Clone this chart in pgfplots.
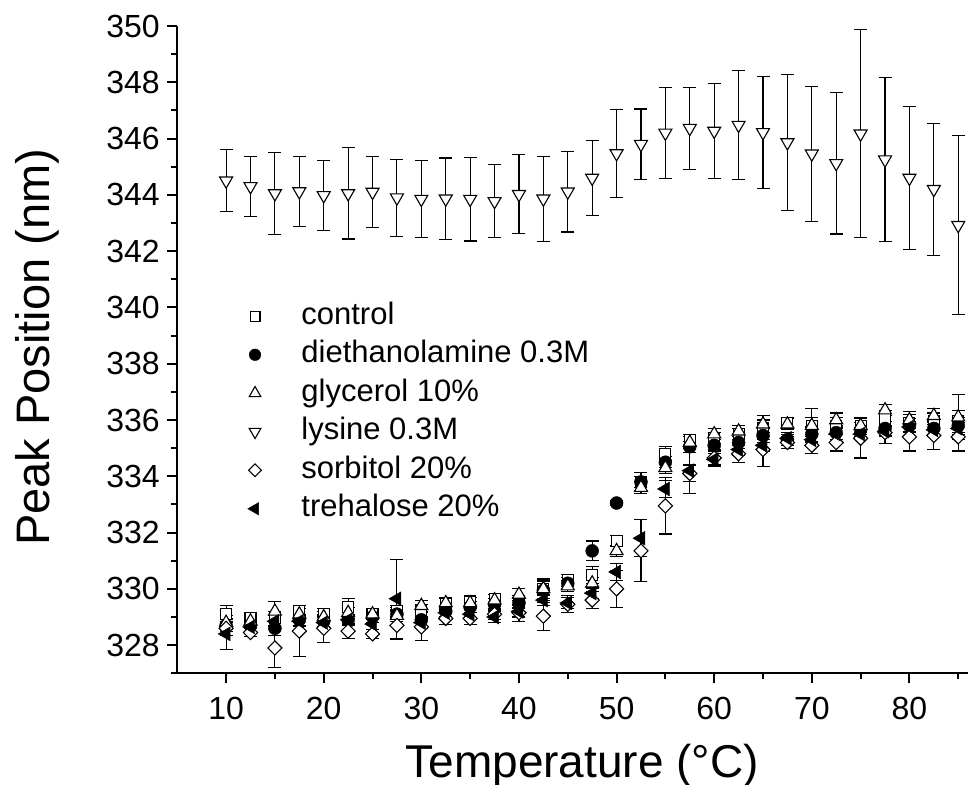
\documentclass[border=0pt]{standalone}
\usepackage{pgfplots}
\pgfplotsset{compat=1.18}
\usepackage{pgfplotstable}
\usepackage{fontspec}
\setmainfont{Liberation Sans}

\pgfplotstableread{
x y e
10 329.1 0.3
12.5 328.95 0.15
15 328.95 0.25
17.5 329.2 0.2
20 329.1 0.2
22.5 329.35 0.3
25 329.1 0.2
27.5 329.2 0.2
30 329.2 0.25
32.5 329.45 0.2
35 329.55 0.15
37.5 329.65 0.15
40 329.55 0.2
42.5 330.0 0.35
45 330.3 0.2
47.5 330.5 0.3
50 331.7 0.2
52.5 333.8 0.35
55 334.8 0.25
57.5 335.3 0.2
60 335.35 0.2
62.5 335.5 0.2
65 335.7 0.3
67.5 335.9 0.2
70 335.8 0.3
72.5 335.8 0.3
75 335.8 0.25
77.5 336.05 0.3
80 335.9 0.3
82.5 335.95 0.3
85 335.95 0.4
}\control

\pgfplotstableread{
x y e
10 328.7 0.2
12.5 328.7 0.2
15 328.6 0.25
17.5 328.9 0.2
20 328.85 0.2
22.5 328.9 0.2
25 329.0 0.2
27.5 329.1 0.25
30 328.9 0.25
32.5 329.2 0.2
35 329.35 0.2
37.5 329.45 0.2
40 329.5 0.2
42.5 329.95 0.35
45 330.2 0.2
47.5 331.35 0.35
50 333.05 0.1
52.5 333.8 0.2
55 334.5 0.2
57.5 335.05 0.2
60 335.1 0.2
62.5 335.2 0.2
65 335.45 0.25
67.5 335.3 0.2
70 335.5 0.25
72.5 335.55 0.25
75 335.65 0.25
77.5 335.7 0.25
80 335.8 0.25
82.5 335.7 0.3
85 335.8 0.3
}\dieth

\pgfplotstableread{
x y e
10 328.8 0.25
12.5 328.85 0.2
15 329.2 0.35
17.5 329.1 0.2
20 329.0 0.2
22.5 329.15 0.2
25 329.1 0.2
27.5 329.05 0.2
30 329.4 0.2
32.5 329.5 0.2
35 329.5 0.2
37.5 329.6 0.2
40 329.8 0.2
42.5 330.0 0.25
45 330.1 0.2
47.5 330.2 0.2
50 331.35 0.2
52.5 333.6 0.2
55 334.3 0.2
57.5 335.2 0.2
60 335.5 0.2
62.5 335.6 0.2
65 335.85 0.3
67.5 335.85 0.2
70 335.8 0.6
72.5 336.0 0.25
75 335.8 0.3
77.5 336.35 0.2
80 336.0 0.3
82.5 336.15 0.25
85 336.1 0.8
}\glycerol

\pgfplotstableread{
x y e
10 344.5 1.1
12.5 344.3 1.06
15 344.05 1.45
17.5 344.12 1.25
20 343.98 1.25
22.5 344.05 1.62
25 344.1 1.27
27.5 343.9 1.37
30 343.85 1.36
32.5 343.86 1.45
35 343.85 1.49
37.5 343.77 1.3
40 344.02 1.4
42.5 343.86 1.51
45 344.11 1.43
47.5 344.6 1.33
50 345.47 1.55
52.5 345.8 1.25
55 346.2 1.63
57.5 346.37 1.46
60 346.27 1.7
62.5 346.48 1.93
65 346.22 1.98
67.5 345.86 2.43
70 345.46 2.4
72.5 345.12 2.51
75 346.17 3.69
77.5 345.25 2.91
80 344.6 2.54
82.5 344.2 2.34
85 342.92 3.18
}\lysine

\pgfplotstableread{
x y e
10 328.6 0.25
12.5 328.45 0.15
15 327.9 0.7
17.5 328.5 0.9
20 328.6 0.5
22.5 328.5 0.25
25 328.4 0.15
27.5 328.7 0.5
30 328.65 0.5
32.5 328.95 0.2
35 328.95 0.2
37.5 329.1 0.2
40 329.15 0.3
42.5 329.03 0.5
45 329.45 0.3
47.5 329.6 0.3
50 330.0 0.65
52.5 331.35 1.1
55 332.95 1.0
57.5 334.1 0.3
60 334.65 0.3
62.5 334.8 0.3
65 334.95 0.6
67.5 335.2 0.2
70 335.1 0.3
72.5 335.2 0.3
75 335.35 0.7
77.5 335.55 0.4
80 335.4 0.5
82.5 335.45 0.5
85 335.4 0.5
}\sorbitol

\pgfplotstableread{
x y e
10 328.4 0.55
12.5 328.65 0.2
15 328.85 0.2
17.5 328.85 0.2
20 328.8 0.2
22.5 328.9 0.2
25 328.75 0.2
27.5 329.65 1.4
30 328.8 0.2
32.5 329.15 0.2
35 329.1 0.2
37.5 329.0 0.2
40 329.2 0.2
42.5 329.6 0.2
45 329.5 0.2
47.5 329.85 0.2
50 330.6 0.3
52.5 331.8 0.65
55 333.55 0.3
57.5 334.2 0.8
60 334.6 0.2
62.5 334.95 0.2
65 335.1 0.2
67.5 335.35 0.2
70 335.3 0.2
72.5 335.5 0.2
75 335.5 0.2
77.5 335.6 0.2
80 335.75 0.2
82.5 335.65 0.2
85 335.7 0.2
}\trehalose

\begin{document}
\begin{tikzpicture}
\useasboundingbox (-177.3bp,-111.7bp) rectangle (790.7bp,673.3bp);
\begin{axis}[
  scale only axis,
  width=790.7bp, height=647.3bp,
  xmin=5, xmax=86, ymin=327, ymax=350,
  axis x line*=bottom, axis y line*=left,
  axis line style={line width=2.2bp},
  xtick={10,20,...,80}, minor xtick={15,25,...,85},
  ytick={328,330,...,350}, minor ytick={327,329,...,349},
  tick align=outside,
  major tick length=10bp, minor tick length=6bp,
  every tick/.style={line width=2bp, black},
  tick label style={font=\fontsize{32bp}{38bp}\selectfont},
  xticklabel style={yshift=-10bp},
  yticklabel style={xshift=-4bp},
  /pgf/number format/assume math mode=true,
  /pgf/number format/1000 sep={},
  clip=false,
  xlabel={Temperature (°C)},
  ylabel={Peak Position (nm)},
  xlabel style={font=\fontsize{46bp}{55bp}\selectfont, at={(rel axis cs:0.512,0)}, anchor=base, yshift=-103.7bp},
  ylabel style={font=\fontsize{47bp}{56bp}\selectfont, at={(axis cs:-8.1,338.59)}, anchor=base},
  legend style={draw=none, fill=none, font=\fontsize{31bp}{37bp}\selectfont,
    at={(axis cs:11.9,340.27)}, anchor=north west, row sep=10bp, column sep=40bp,
    nodes={inner sep=0pt, text height=22bp, text depth=6.5bp}},
  legend cell align=left,
  legend image post style={scale=0.9},
  error bars/y dir=both, error bars/y explicit,
  error bars/error mark options={black, line width=1.1bp, mark size=6.5bp, rotate=90},
  error bars/error bar style={black, line width=1.1bp},
]
\addplot[only marks, mark=square*, mark size=5.5bp, mark options={fill=white, draw=black, line width=1.1bp}] table[x=x, y=y, y error=e] {\control};
\addlegendentry{control}
\addplot[only marks, mark=*, mark size=6.5bp, mark options={fill=black, draw=black}] table[x=x, y=y, y error=e] {\dieth};
\addlegendentry{diethanolamine 0.3M}
\addplot[only marks, mark=triangle*, mark size=7.5bp, mark options={fill=white, draw=black, line width=1.1bp}] table[x=x, y=y, y error=e] {\glycerol};
\addlegendentry{glycerol 10\%}
\addplot[only marks, mark=triangle*, mark size=7.5bp, mark options={fill=white, draw=black, line width=1.1bp, rotate=180}] table[x=x, y=y, y error=e] {\lysine};
\addlegendentry{lysine 0.3M}
\addplot[only marks, mark=square*, mark size=5bp, mark options={fill=white, draw=black, line width=1.1bp, rotate=45}] table[x=x, y=y, y error=e] {\sorbitol};
\addlegendentry{sorbitol 20\%}
\addplot[only marks, mark=triangle*, mark size=8bp, mark options={fill=black, draw=black, rotate=90}] table[x=x, y=y, y error=e] {\trehalose};
\addlegendentry{trehalose 20\%}
\end{axis}
\end{tikzpicture}
\end{document}
